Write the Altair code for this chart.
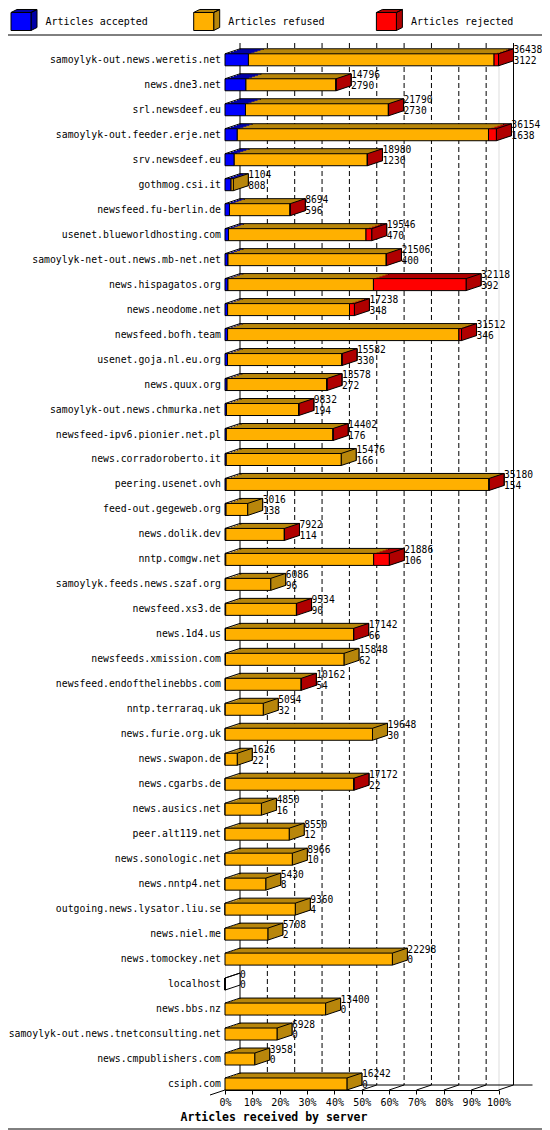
import altair as alt
import pandas as pd

servers = [
    "samoylyk-out.news.weretis.net", "news.dne3.net", "srl.newsdeef.eu",
    "samoylyk-out.feeder.erje.net", "srv.newsdeef.eu", "gothmog.csi.it",
    "newsfeed.fu-berlin.de", "usenet.blueworldhosting.com",
    "samoylyk-net-out.news.mb-net.net", "news.hispagatos.org", "news.neodome.net",
    "newsfeed.bofh.team", "usenet.goja.nl.eu.org", "news.quux.org",
    "samoylyk-out.news.chmurka.net", "newsfeed-ipv6.pionier.net.pl",
    "news.corradoroberto.it", "peering.usenet.ovh", "feed-out.gegeweb.org",
    "news.dolik.dev", "nntp.comgw.net", "samoylyk.feeds.news.szaf.org",
    "newsfeed.xs3.de", "news.1d4.us", "newsfeeds.xmission.com",
    "newsfeed.endofthelinebbs.com", "nntp.terraraq.uk", "news.furie.org.uk",
    "news.swapon.de", "news.cgarbs.de", "news.ausics.net", "peer.alt119.net",
    "news.sonologic.net", "news.nntp4.net", "outgoing.news.lysator.liu.se",
    "news.niel.me", "news.tomockey.net", "localhost", "news.bbs.nz",
    "samoylyk-out.news.tnetconsulting.net", "news.cmpublishers.com", "csiph.com",
]
totals = [36438, 14796, 21790, 36154, 18980, 1104, 8694, 19546, 21506, 32118,
          17238, 31512, 15582, 13578, 9832, 14402, 15476, 35180, 3016, 7922,
          21886, 6086, 9534, 17142, 15848, 10162, 5094, 19648, 1626, 17172,
          4850, 8550, 8966, 5430, 9360, 5708, 22298, 0, 13400, 6928, 3958, 16242]
accepted = [3122, 2790, 2730, 1638, 1230, 808, 596, 470, 400, 392,
            348, 346, 330, 272, 194, 176, 166, 154, 138, 114,
            106, 96, 90, 66, 62, 54, 32, 30, 22, 22,
            16, 12, 10, 8, 4, 2, 0, 0, 0, 0, 0, 0]
rejected = [590, 30, 30, 1050, 30, 0, 40, 760, 30, 12340,
            650, 350, 20, 20, 20, 20, 0, 30, 0, 20,
            2080, 0, 20, 20, 0, 20, 0, 0, 0, 20,
            0, 0, 0, 0, 0, 0, 0, 0, 0, 0, 0, 0]
refused = [32726, 11976, 19030, 33466, 17720, 296, 8058, 18316, 21076, 19386,
           16240, 30816, 15232, 13286, 9618, 14206, 15310, 34996, 2878, 7788,
           19700, 5990, 9424, 17056, 15786, 10088, 5062, 19618, 1604, 17130,
           4834, 8538, 8956, 5422, 9356, 5706, 22298, 0, 13400, 6928, 3958, 16242]

names = ["Articles accepted", "Articles refused", "Articles rejected"]
front_colors = ["#0000ff", "#ffb000", "#ff0000"]
dark_colors = ["#0000a8", "#b8860b", "#b00000"]
ticks = [0, 10, 20, 30, 40, 50, 60, 70, 80, 90, 100]

mono = "DejaVu Sans Mono"
W, H = 273.5, 1036.2
PAD_L, PAD_T, PAD_R, PAD_B = 217, 45.8, 43.5, 39.5
RIGHT = W + PAD_R  # right edge of the canvas, relative to plot origin

# ---- tables built from the arrays ----
M = max(totals)
seg_rows, bar_rows = [], []
for i, s in enumerate(servers):
    vals = [accepted[i], refused[i], rejected[i]]
    cum = 0
    for nm, v in zip(names, vals):
        seg_rows.append(dict(server=s, seg=nm, start=cum / M * 100,
                             end=(cum + v) / M * 100, total=totals[i]))
        cum += v
    last = names[0]
    for nm, v in zip(names, vals):
        if v > 0:
            last = nm
    bar_rows.append(dict(server=s, total=totals[i], accepted=accepted[i],
                         pct=totals[i] / M * 100, side=last, zero=0))
seg_df = pd.DataFrame(seg_rows)
bar_df = pd.DataFrame(bar_rows)
tick_df = pd.DataFrame({"p": ticks})
one_df = pd.DataFrame({"a": [0], "b": [100]})

# ---- shared encodings ----
xscale = alt.Scale(domain=[0, 100], nice=False, zero=True)
xaxis = alt.Axis(values=ticks, labelExpr="datum.value + '%'",
                 title="Articles received by server", titleFont=mono,
                 titleFontWeight="bold", titleFontSize=11.5, titleColor="black",
                 titleX=48.5, titleY=27, titleAlign="center", titleBaseline="middle",
                 grid=False, tickSize=4, tickColor="black", domainColor="black",
                 labelFont=mono, labelFontSize=10, labelColor="black",
                 labelPadding=8, labelBaseline="middle", labelFlush=False,
                 labelOverlap=False)
yaxis = alt.Axis(title=None, domain=False, ticks=False, labelFont=mono,
                 labelFontSize=9.8, labelColor="black", labelPadding=4.5,
                 labelLimit=400)


def X(f):
    return alt.X(f, type="quantitative", scale=xscale, axis=xaxis)


Y = alt.Y("server:N", sort=servers,
          scale=alt.Scale(paddingInner=0.5196, paddingOuter=0), axis=yaxis)

front_path = "M-1,-0.731L0.538,-0.731L0.538,0.654L-1,0.654Z"
dark_path = ("M-1,-0.731L-0.538,-0.962L1,-0.962L0.538,-0.731Z "
             "M0.538,-0.731L1,-0.962L1,0.423L0.538,0.654Z")

leg_common = dict(orient="none", legendX=-214.5, legendY=-45.8,
                  direction="horizontal", columns=3, gridAlign="all",
                  columnPadding=42.7, symbolSize=676, symbolStrokeColor="black",
                  symbolStrokeWidth=1, symbolOpacity=1, labelFont=mono,
                  labelFontSize=10, labelColor="black", labelOffset=8,
                  title=None, padding=0, labelLimit=300)
front_legend = alt.Legend(symbolType=front_path, **leg_common)
dark_legend = alt.Legend(symbolType=dark_path, labelOpacity=0, **leg_common)

front_scale = alt.Scale(domain=names, range=front_colors)
dark_scale = alt.Scale(domain=names, range=dark_colors)

# ---- back plane grid and floor ----
grid_in = alt.Chart(tick_df).transform_filter("datum.p > 0 && datum.p < 100").mark_rule(
    xOffset=15, strokeDash=[5, 3], color="black", strokeWidth=1
).encode(x=X("p"), y=alt.value(-10.8), y2=alt.value(H - 5))
grid_end = alt.Chart(tick_df).transform_filter("datum.p == 0 || datum.p == 100").mark_rule(
    xOffset=15, color="black", strokeWidth=1
).encode(x=X("p"), y=alt.value(-10.8), y2=alt.value(H - 5))
floor_back = alt.Chart(one_df).mark_rule(
    xOffset=15, x2Offset=34, color="black", strokeWidth=1
).encode(x=X("a"), x2="b", y=alt.value(H - 5))
floor_diag = alt.Chart(tick_df).transform_filter("datum.p > 0").mark_point(
    shape="M0,0L15,-5", size=4, filled=False, color="black", stroke="black",
    strokeWidth=1, opacity=1
).encode(x=X("p"), y=alt.value(H))
floor_diag0 = alt.Chart(tick_df).transform_filter("datum.p == 0").mark_point(
    shape="M-15,5L15,-5", size=4, filled=False, color="black", stroke="black",
    strokeWidth=1, opacity=1
).encode(x=X("p"), y=alt.value(H))

# ---- 3D top faces (stepped back copies) ----
nonzero = alt.Chart(seg_df).transform_filter("datum.end > datum.start")
tops = []
for k in [5, 4, 3, 2, 1]:
    props = dict(xOffset=3 * k, x2Offset=3 * k, yOffset=-k, y2Offset=-k)
    if k == 5:
        props.update(stroke="black", strokeWidth=1)
    tops.append(nonzero.mark_bar(**props).encode(
        x=X("start"), x2="end", y=Y,
        fill=alt.Fill("seg:N", scale=dark_scale, legend=dark_legend)))

side = alt.Chart(bar_df).mark_point(
    shape="M0,-6L15,-11L15,1L0,6Z", size=4, filled=True, stroke="black",
    strokeWidth=1, opacity=1
).encode(
    x=X("pct"), y=Y,
    fill=alt.condition("datum.total > 0",
                       alt.Fill("side:N", scale=dark_scale, legend=dark_legend),
                       alt.value("white")))

dark = alt.layer(*tops, side)

front = alt.Chart(seg_df).transform_filter(
    "datum.end > datum.start || datum.total == 0"
).mark_bar(stroke="black", strokeWidth=1).encode(
    x=X("start"), x2="end", y=Y,
    fill=alt.Fill("seg:N", scale=front_scale, legend=front_legend))

edge = alt.Chart(bar_df).mark_point(
    shape="M0,-6L15,-11", size=4, filled=False, color="black", stroke="black",
    strokeWidth=1, opacity=1
).encode(x=X("zero"), y=Y)

txt_total = alt.Chart(bar_df).mark_text(
    align="left", baseline="middle", dx=15, dy=-9.5, font=mono, fontSize=9.6,
    color="black"
).encode(x=X("pct"), y=Y, text="total:Q")
txt_acc = alt.Chart(bar_df).mark_text(
    align="left", baseline="middle", dx=15, dy=1.3, font=mono, fontSize=9.6,
    color="black"
).encode(x=X("pct"), y=Y, text="accepted:Q")

# ---- frame lines ----
frame_df = pd.DataFrame({"d": [0]})
sep = alt.Chart(frame_df).mark_rule(color="black", strokeWidth=1).encode(
    x=alt.value(-PAD_L), x2=alt.value(RIGHT), y=alt.value(-18.8))
bottom_b = alt.Chart(frame_df).mark_rule(color="black", strokeWidth=1).encode(
    x=alt.value(-PAD_L), x2=alt.value(RIGHT), y=alt.value(1075.2))

chart = alt.layer(
    grid_in, grid_end, floor_back, floor_diag, floor_diag0,
    dark, front, edge, txt_total, txt_acc, sep, bottom_b
).resolve_scale(fill="independent").properties(
    width=W, height=H,
    padding={"left": PAD_L, "top": PAD_T, "right": PAD_R, "bottom": PAD_B},
    autosize=alt.AutoSizeParams(type="none"),
).configure_view(stroke=None).configure(background="white")

chart.save("out.html", embed_options={"renderer": "svg", "actions": False})
